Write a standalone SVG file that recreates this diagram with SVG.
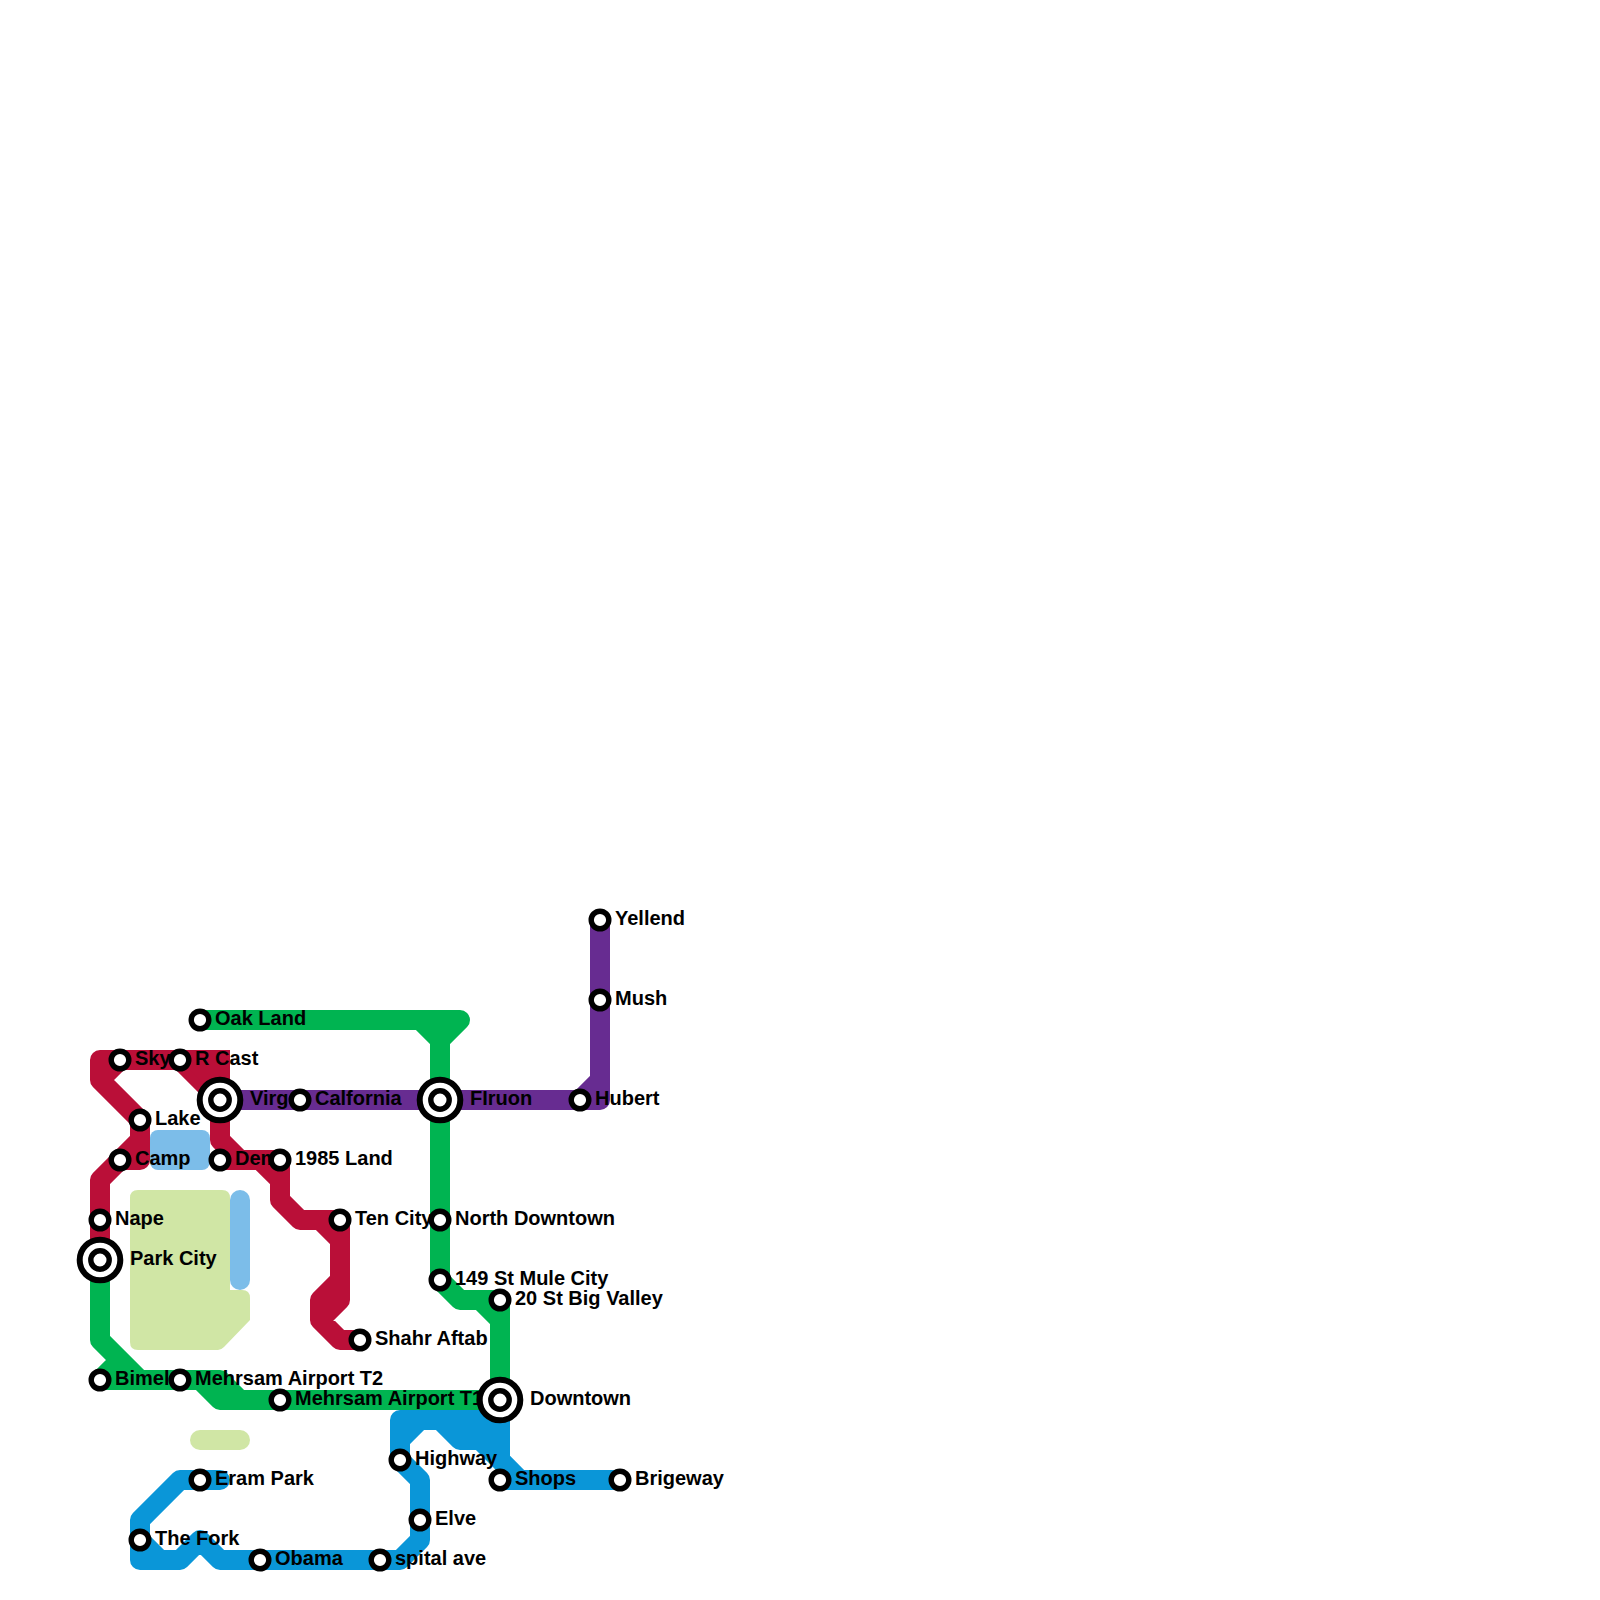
<svg xmlns="http://www.w3.org/2000/svg" width="1600" height="1600" viewBox="0 0 1600 1600">
<style>
.l{fill:none;stroke-width:20;stroke-linecap:round;stroke-linejoin:round}
.red{stroke:#BA0F38}.green{stroke:#00B451}.purple{stroke:#672C91}.blue{stroke:#0A96D8}
.lb{fill:#7CBDE9}.lg{fill:#D0E6A5}
.s{fill:#fff;stroke:#000;stroke-width:5.4}
.o{stroke-width:6}
text{font-family:"Liberation Sans",Arial,sans-serif;font-weight:700;font-size:20px;fill:#000}
</style>
<defs>
<g id="st"><circle class="s" r="8.8"/></g>
<g id="ix"><circle class="s o" r="20.3"/><circle class="s" r="9.2"/></g>
</defs>
<g id="areas">
<path class="lg" d="M138 1190H222Q230 1190 230 1198V1290H242Q250 1290 250 1298V1320L224 1347Q221 1350 218 1350H138Q130 1350 130 1342V1198Q130 1190 138 1190Z"/>
<rect class="lg" x="190" y="1430" width="60" height="20" rx="10"/>
<rect class="lb" x="150" y="1130" width="60" height="40" rx="8"/>
<rect class="lb" x="230" y="1190" width="20" height="100" rx="10"/>
</g>
<g id="connectors">
<path class="l blue" d="M620 1480H520L500 1460V1420H400V1460L420 1480V1540L400 1560H220L200 1540L180 1560H140V1520L180 1480H220M500 1480H620M400 1440L420 1420M440 1420L460 1440H480L500 1460M140 1540L160 1560M500 1440H470"/>
<path class="l green" d="M200 1020H460L440 1040V1280L460 1300H500V1400M480 1300L500 1320M420 1020L440 1040M100 1260V1340L140 1380H220L240 1400H500M100 1380H220M100 1380L120 1360M200 1380L220 1400H240"/>
<path class="l purple" d="M220 1100H600V920M580 1100L600 1080"/>
<path class="l red" d="M100 1260V1180L120 1160H140V1120L100 1080V1060H220M100 1080L120 1060M140 1140L100 1180M180 1060L220 1100M220 1060V1140L240 1160H260L280 1180V1200L300 1220H340V1300L320 1320V1300L340 1280M320 1320L340 1340H360M220 1160H280V1180M320 1220L340 1240"/>
<path d="M190 1050H230V1100H220L190 1070Z" fill="#BA0F38"/>
</g>
<g id="nodes">
<g id="n-nape"><text x="115" y="1224.5">Nape</text><use href="#st" x="100" y="1220"/></g>
<g id="n-park-city"><text x="130" y="1264.5">Park City</text><use href="#ix" x="100" y="1260"/></g>
<g id="n-bimel"><text x="115" y="1384.5">Bimel</text><use href="#st" x="100" y="1380"/></g>
<g id="n-sky"><text x="135" y="1064.5">Sky</text><use href="#st" x="120" y="1060"/></g>
<g id="n-camp"><text x="135" y="1164.5">Camp</text><use href="#st" x="120" y="1160"/></g>
<g id="n-lake"><text x="155" y="1124.5">Lake</text><use href="#st" x="140" y="1120"/></g>
<g id="n-the-fork"><text x="155" y="1544.5">The Fork</text><use href="#st" x="140" y="1540"/></g>
<g id="n-r-cast"><text x="195" y="1064.5">R Cast</text><use href="#st" x="180" y="1060"/></g>
<g id="n-mehrsam-t2"><text x="195" y="1384.5">Mehrsam Airport T2</text><use href="#st" x="180" y="1380"/></g>
<g id="n-oak-land"><text x="215" y="1024.5">Oak Land</text><use href="#st" x="200" y="1020"/></g>
<g id="n-eram-park"><text x="215" y="1484.5">Eram Park</text><use href="#st" x="200" y="1480"/></g>
<g id="n-virg"><text x="250" y="1104.5">Virg</text><use href="#ix" x="220" y="1100"/></g>
<g id="n-dem"><text x="235" y="1164.5">Dem</text><use href="#st" x="220" y="1160"/></g>
<g id="n-obama"><text x="275" y="1564.5">Obama</text><use href="#st" x="260" y="1560"/></g>
<g id="n-1985-land"><text x="295" y="1164.5">1985 Land</text><use href="#st" x="280" y="1160"/></g>
<g id="n-mehrsam-t1"><text x="295" y="1404.5">Mehrsam Airport T1</text><use href="#st" x="280" y="1400"/></g>
<g id="n-california"><text x="315" y="1104.5">Calfornia</text><use href="#st" x="300" y="1100"/></g>
<g id="n-ten-city"><text x="355" y="1224.5">Ten City</text><use href="#st" x="340" y="1220"/></g>
<g id="n-shahr-aftab"><text x="375" y="1344.5">Shahr Aftab</text><use href="#st" x="360" y="1340"/></g>
<g id="n-spital-ave"><text x="395" y="1564.5">spital ave</text><use href="#st" x="380" y="1560"/></g>
<g id="n-highway"><text x="415" y="1464.5">Highway</text><use href="#st" x="400" y="1460"/></g>
<g id="n-elve"><text x="435" y="1524.5">Elve</text><use href="#st" x="420" y="1520"/></g>
<g id="n-firuon"><text x="470" y="1104.5">FIruon</text><use href="#ix" x="440" y="1100"/></g>
<g id="n-north-downtown"><text x="455" y="1224.5">North Downtown</text><use href="#st" x="440" y="1220"/></g>
<g id="n-149-st"><text x="455" y="1284.5">149 St Mule City</text><use href="#st" x="440" y="1280"/></g>
<g id="n-20-st"><text x="515" y="1304.5">20 St Big Valley</text><use href="#st" x="500" y="1300"/></g>
<g id="n-downtown"><text x="530" y="1404.5">Downtown</text><use href="#ix" x="500" y="1400"/></g>
<g id="n-shops"><text x="515" y="1484.5">Shops</text><use href="#st" x="500" y="1480"/></g>
<g id="n-hubert"><text x="595" y="1104.5">Hubert</text><use href="#st" x="580" y="1100"/></g>
<g id="n-yellend"><text x="615" y="924.5">Yellend</text><use href="#st" x="600" y="920"/></g>
<g id="n-mush"><text x="615" y="1004.5">Mush</text><use href="#st" x="600" y="1000"/></g>
<g id="n-brigeway"><text x="635" y="1484.5">Brigeway</text><use href="#st" x="620" y="1480"/></g>
</g>
</svg>
